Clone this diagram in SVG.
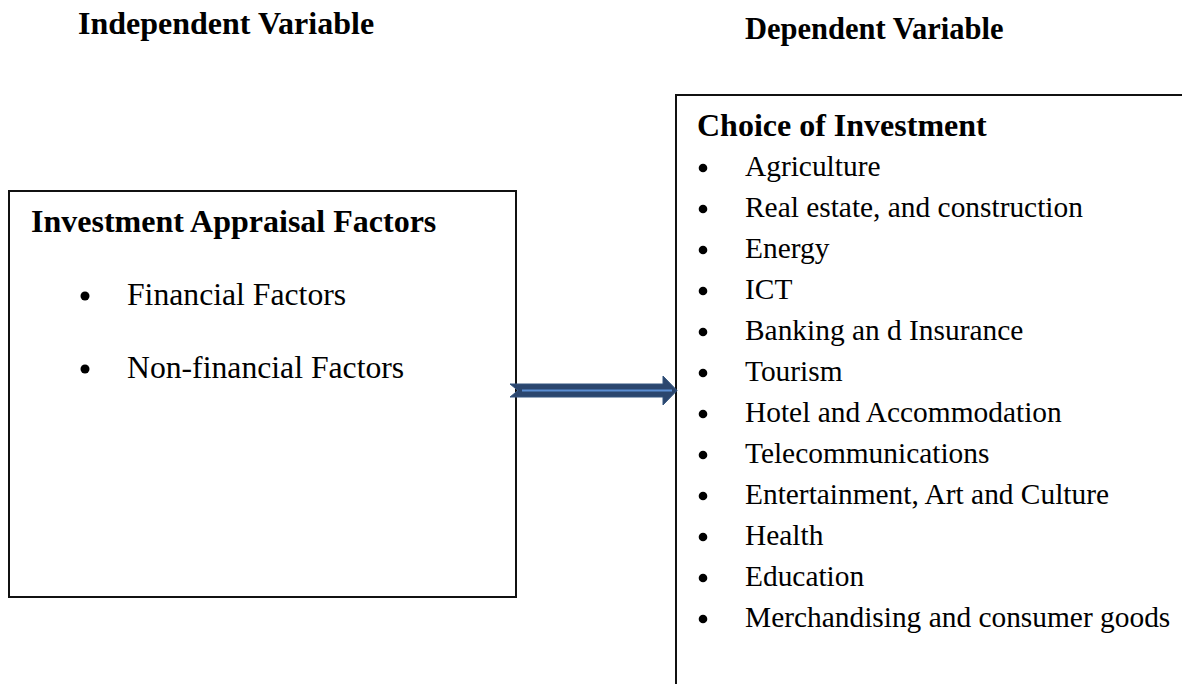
<svg xmlns="http://www.w3.org/2000/svg" width="1182" height="684" viewBox="0 0 1182 684">
  <style>
    .head { font-family: "Liberation Serif", "Times New Roman", serif; font-weight: bold; font-size: 32px; fill: #000; }
    .item { font-family: "Liberation Serif", "Times New Roman", serif; font-size: 29.4px; fill: #000; }
    .itemL { font-family: "Liberation Serif", "Times New Roman", serif; font-size: 31.7px; fill: #000; }
    .box { fill: #fff; stroke: #111; stroke-width: 2; }
    .dot { fill: #000; }
  </style>
  <rect width="1182" height="684" fill="#fff"/>

  <!-- column headings -->
  <text class="head" x="78" y="34">Independent Variable</text>
  <text class="head" x="745" y="39" style="font-size:30.5px">Dependent Variable</text>

  <!-- independent variable box -->
  <g id="appraisal-factors">
    <rect class="box" x="9" y="191" width="507" height="406"/>
    <text class="head" x="31" y="232">Investment Appraisal Factors</text>
    <circle class="dot" cx="85" cy="296" r="4.5"/>
    <text class="itemL" x="127" y="305">Financial Factors</text>
    <circle class="dot" cx="85" cy="369" r="4.5"/>
    <text class="itemL" x="127" y="378">Non-financial Factors</text>
  </g>

  <!-- dependent variable box (runs off the right and bottom edges) -->
  <g id="choice-of-investment">
    <rect class="box" x="676" y="95" width="520" height="610"/>
    <text class="head" x="697" y="136">Choice of Investment</text>
    <g class="dot">
      <circle cx="703" cy="168" r="4.3"/>
      <circle cx="703" cy="209" r="4.3"/>
      <circle cx="703" cy="250" r="4.3"/>
      <circle cx="703" cy="291" r="4.3"/>
      <circle cx="703" cy="332" r="4.3"/>
      <circle cx="703" cy="373" r="4.3"/>
      <circle cx="703" cy="414" r="4.3"/>
      <circle cx="703" cy="455" r="4.3"/>
      <circle cx="703" cy="496" r="4.3"/>
      <circle cx="703" cy="537" r="4.3"/>
      <circle cx="703" cy="578" r="4.3"/>
      <circle cx="703" cy="619" r="4.3"/>
    </g>
    <text class="item" x="745" y="176">Agriculture</text>
    <text class="item" x="745" y="217">Real estate, and construction</text>
    <text class="item" x="745" y="258">Energy</text>
    <text class="item" x="745" y="299">ICT</text>
    <text class="item" x="745" y="340">Banking an d Insurance</text>
    <text class="item" x="745" y="381">Tourism</text>
    <text class="item" x="745" y="422">Hotel and Accommodation</text>
    <text class="item" x="745" y="463">Telecommunications</text>
    <text class="item" x="745" y="504">Entertainment, Art and Culture</text>
    <text class="item" x="745" y="545">Health</text>
    <text class="item" x="745" y="586">Education</text>
    <text class="item" x="745" y="627">Merchandising and consumer goods</text>
  </g>

  <!-- connector: notched block arrow -->
  <g id="connectors">
    <path d="M510,384 L663,384 L663,376 L677,390.5 L663,405 L663,397 L510,397 L518,390.5 Z" fill="#2b466e" stroke="#34557f" stroke-width="1"/>
    <line x1="522" y1="390.5" x2="672" y2="390.5" stroke="#5b8ed3" stroke-width="2"/>
  </g>
</svg>
